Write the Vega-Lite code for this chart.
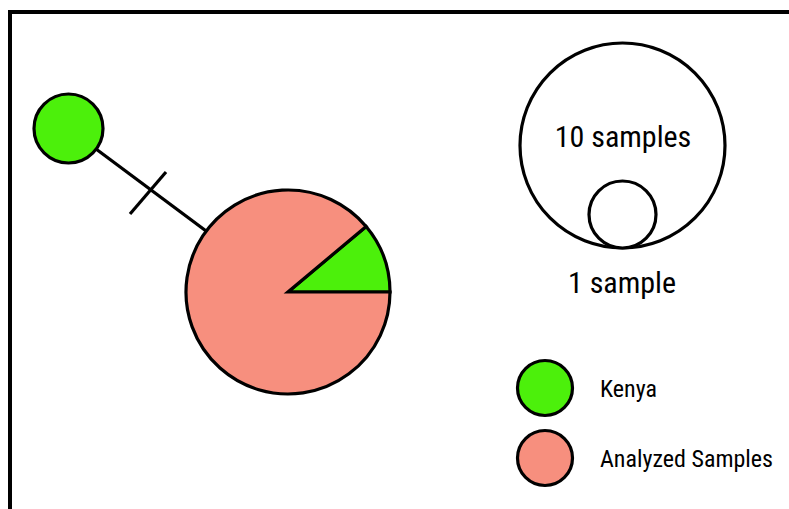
{
  "$schema": "https://vega.github.io/schema/vega-lite/v6.json",
  "width": 789,
  "height": 509,
  "padding": 0,
  "autosize": {"type": "none"},
  "background": "white",
  "config": {"view": {"stroke": null}},
  "encoding": {
    "x": {"field": "x", "type": "quantitative", "axis": null, "scale": {"domain": [0, 789], "nice": false, "zero": false}},
    "y": {"field": "y", "type": "quantitative", "axis": null, "scale": {"domain": [0, 509], "nice": false, "zero": false, "reverse": true}}
  },
  "layer": [
    {
      "data": {"values": [{"x": 10, "y": 12, "x2": 840, "y2": 560}]},
      "mark": {"type": "rect", "fill": null, "stroke": "black", "strokeWidth": 4, "clip": true},
      "encoding": {"x2": {"field": "x2"}, "y2": {"field": "y2"}}
    },
    {
      "data": {"values": [
        {"link": "edge", "x": 68.5, "y": 128.5, "x2": 288, "y2": 292},
        {"link": "mutation", "x": 130, "y": 214, "x2": 166, "y2": 172}
      ]},
      "mark": {"type": "rule", "stroke": "black", "strokeWidth": 3.2},
      "encoding": {"x2": {"field": "x2"}, "y2": {"field": "y2"}}
    },
    {
      "data": {"values": [
        {"cat": "Kenya", "n": 1, "x": 288, "y": 292},
        {"cat": "Analyzed Samples", "n": 8, "x": 288, "y": 292}
      ]},
      "mark": {"type": "arc", "radius": 102, "stroke": "black", "strokeWidth": 3.2},
      "encoding": {
        "theta": {"field": "n", "type": "quantitative", "stack": true, "scale": {"range": [0.87266, 7.15585]}},
        "order": {"field": "n", "type": "quantitative", "sort": "ascending"},
        "color": {"field": "cat", "type": "nominal", "legend": null, "scale": {"domain": ["Kenya", "Analyzed Samples"], "range": ["#4cf00b", "#f78f7e"]}}
      }
    },
    {
      "data": {"values": [{"node": "Kenya", "x": 68.5, "y": 128.5}]},
      "mark": {"type": "point", "shape": "circle", "filled": true, "fill": "#4cf00b", "stroke": "black", "strokeWidth": 3.2, "opacity": 1, "size": 4761}
    },
    {
      "data": {"values": [{"ref": "10 samples", "x": 622.5, "y": 145.5}]},
      "mark": {"type": "point", "shape": "circle", "fill": "white", "stroke": "black", "strokeWidth": 3.2, "opacity": 1, "size": 42025}
    },
    {
      "data": {"values": [{"ref": "1 sample", "x": 622.5, "y": 214.5}]},
      "mark": {"type": "point", "shape": "circle", "fill": "white", "stroke": "black", "strokeWidth": 3.2, "opacity": 1, "size": 4489}
    },
    {
      "data": {"values": [
        {"cat": "Kenya", "x": 545, "y": 388},
        {"cat": "Analyzed Samples", "x": 545, "y": 458}
      ]},
      "mark": {"type": "point", "shape": "circle", "filled": true, "stroke": "black", "strokeWidth": 3.2, "opacity": 1, "size": 3025},
      "encoding": {
        "fill": {"field": "cat", "type": "nominal", "legend": null, "scale": {"domain": ["Kenya", "Analyzed Samples"], "range": ["#4cf00b", "#f78f7e"]}}
      }
    },
    {
      "data": {"values": [
        {"label": "10 samples", "x": 623, "y": 147},
        {"label": "1 sample", "x": 622, "y": 293}
      ]},
      "mark": {"type": "text", "align": "center", "baseline": "alphabetic", "font": "Roboto Condensed, Liberation Sans Narrow, Arial Narrow, Roboto, sans-serif", "fontSize": 30, "fill": "black"},
      "encoding": {"text": {"field": "label"}}
    },
    {
      "data": {"values": [
        {"label": "Kenya", "x": 600, "y": 397},
        {"label": "Analyzed Samples", "x": 600, "y": 467}
      ]},
      "mark": {"type": "text", "align": "left", "baseline": "alphabetic", "font": "Roboto Condensed, Liberation Sans Narrow, Arial Narrow, Roboto, sans-serif", "fontSize": 24, "fill": "black"},
      "encoding": {"text": {"field": "label"}}
    }
  ]
}
